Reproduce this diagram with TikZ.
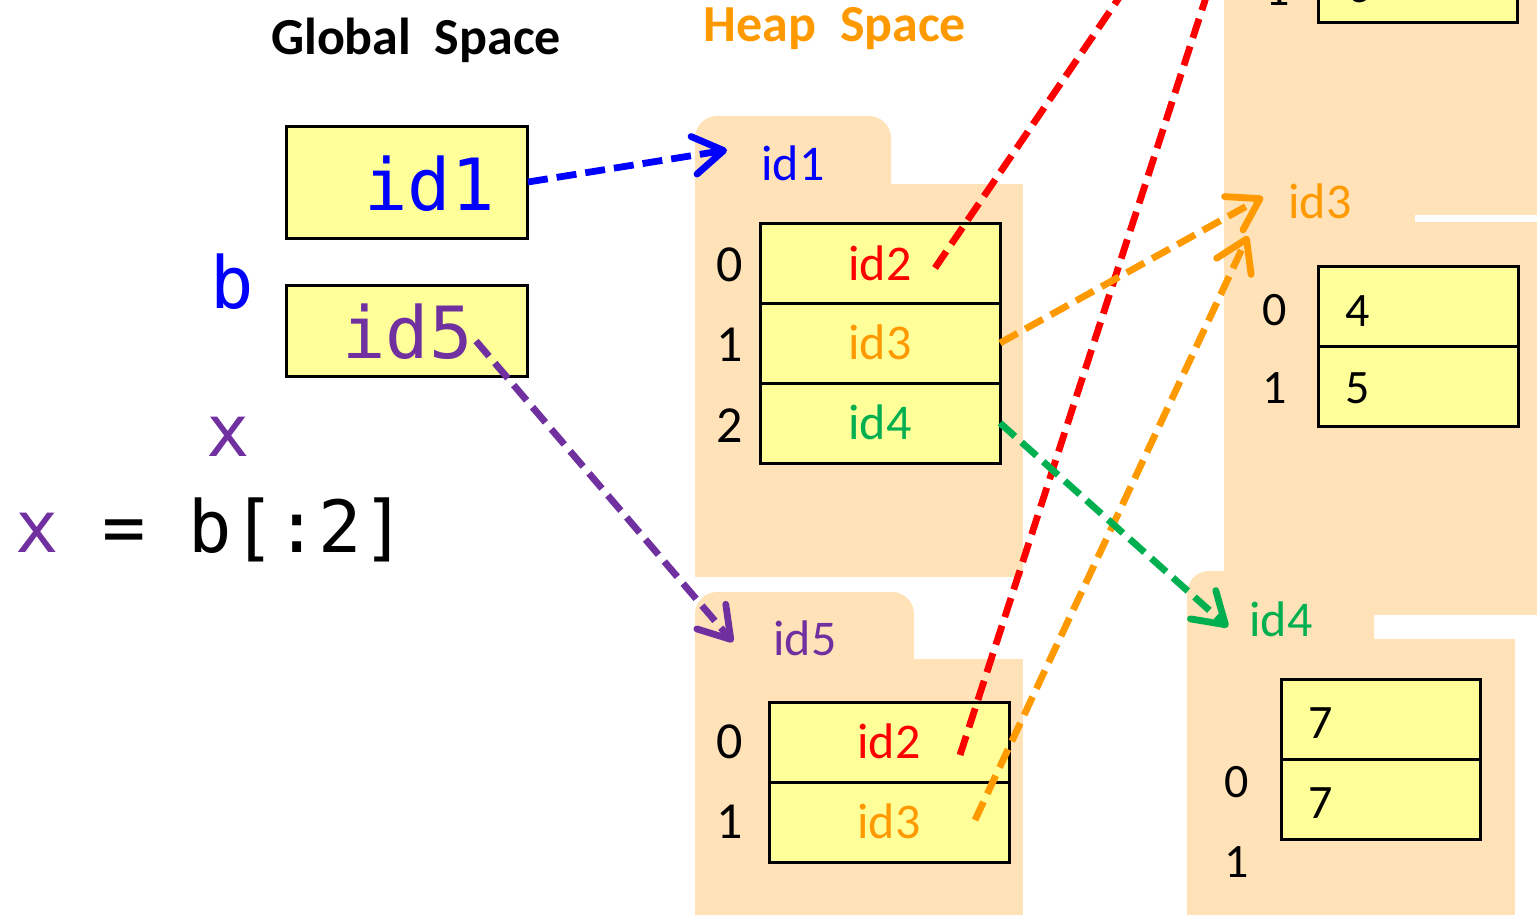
\documentclass[tikz,border=0pt]{standalone}
\usepackage{fontspec}
\setmainfont{Carlito}
\newfontfamily\codefont{DejaVu Sans Mono}
\usetikzlibrary{arrows.meta}

\definecolor{peach}{HTML}{FFE2B7}
\definecolor{cellyellow}{HTML}{FFFF99}
\definecolor{refblue}{HTML}{0000FF}
\definecolor{refpurple}{HTML}{7030A0}
\definecolor{refred}{HTML}{FF0000}
\definecolor{reforange}{HTML}{FF9900}
\definecolor{refgreen}{HTML}{00B050}

\tikzset{
  folder/.style={fill=peach, draw=none},
  cellbox/.style={draw=black, line width=1.5pt, fill=cellyellow},
  idxtext/.style={anchor=base, inner sep=0pt, font=\fontsize{26}{30}\selectfont},
  smallidx/.style={anchor=base, inner sep=0pt, font=\fontsize{24}{28}\selectfont},
  celltext/.style={anchor=base, inner sep=0pt, font=\fontsize{25}{30}\selectfont},
  valtext/.style={anchor=base west, inner sep=0pt, font=\fontsize{24}{28}\selectfont},
  codetext/.style={inner sep=0pt, font=\codefont\fontsize{36}{40}\selectfont},
  titletext/.style={anchor=base, inner sep=0pt, font=\bfseries\fontsize{26}{30}\selectfont},
  ptr/.style={line width=3.4pt, dash pattern=on 10pt off 4.5pt,
    -{Straight Barb[length=15pt, width=19pt, round]}},
  ptrline/.style={line width=3.4pt, dash pattern=on 10pt off 4.5pt}
}

\begin{document}
\begin{tikzpicture}[x=0.5pt, y=-0.5pt]
\useasboundingbox (0,0) rectangle (1537,915);
\clip (0,0) rectangle (1537,915);

% ---------- heap folders ----------
% folder id1
\fill[folder, rounded corners=11pt] (695,116) rectangle (891,300);
\fill[folder] (695,184) rectangle (1023,577);
% folder id5
\fill[folder, rounded corners=11pt] (695,592) rectangle (914,760);
\fill[folder] (695,659) rectangle (1023,930);
% folder id4
\fill[folder, rounded corners=11pt] (1187,571) rectangle (1374,760);
\fill[folder] (1187,639) rectangle (1515,930);
% folder id2 (upper part only)
\fill[folder] (1224,-60) rectangle (1537,215);
% folder id3
\fill[folder] (1224,150) rectangle (1415,300);
\fill[folder] (1224,222) rectangle (1537,615);

% ---------- titles ----------
\node[titletext] (gtitle) at (416,55) {Global\ \ Space};
\node[titletext, text=reforange] (htitle) at (835,42) {Heap\ \ Space};

% ---------- global variables ----------
\draw[cellbox] (286,127) rectangle (527,238);
\draw[cellbox] (286,285) rectangle (527,376);
\node[codetext, anchor=base west, text=refblue] (gb) at (364,210) {id1};
\node[codetext, anchor=base west, text=refpurple] (gx) at (342,358) {id5};
\node[codetext, anchor=base west, text=refblue] (lb) at (210,308) {b};
\node[codetext, anchor=base west, text=refpurple] (lx) at (206,456) {x};
\node[codetext, anchor=base west] (stmt) at (15,552) {\textcolor{refpurple}{x} = b[:2]};

% ---------- folder id1 contents ----------
\node[celltext, text=refblue, anchor=base west] (f1) at (761,180) {id1};
\draw[cellbox] (760,223) rectangle (1000,303);
\draw[cellbox] (760,303) rectangle (1000,383);
\draw[cellbox] (760,383) rectangle (1000,463);
\node[idxtext] (a0) at (730,281) {0};
\node[idxtext] (a1) at (730,361) {1};
\node[idxtext] (a2) at (730,442) {2};
\node[celltext, text=refred] (a0v) at (880,280) {id2};
\node[celltext, text=reforange] (a1v) at (880,359) {id3};
\node[celltext, text=refgreen] (a2v) at (880,439) {id4};

% ---------- folder id5 contents ----------
\node[celltext, text=refpurple, anchor=base west] (f5) at (773,655) {id5};
\draw[cellbox] (769,702) rectangle (1009,782);
\draw[cellbox] (769,782) rectangle (1009,862);
\node[idxtext] (b0) at (730,758) {0};
\node[idxtext] (b1) at (730,838) {1};
\node[celltext, text=refred] (b0v) at (889,758) {id2};
\node[celltext, text=reforange] (b1v) at (889,838) {id3};

% ---------- folder id2 (bottom row visible) ----------
\draw[cellbox] (1318,-57) rectangle (1517,23);
\node[smallidx] (c1) at (1278,6) {1};
\node[valtext] (c1v) at (1347,3) {6};

% ---------- folder id3 contents ----------
\node[celltext, text=reforange, anchor=base west] (f3) at (1288,219) {id3};
\draw[cellbox] (1318,266) rectangle (1518,346);
\draw[cellbox] (1318,346) rectangle (1518,426);
\node[smallidx] (d0) at (1275,325) {0};
\node[smallidx] (d1) at (1275,403) {1};
\node[valtext] (d0v) at (1345,326) {4};
\node[valtext] (d1v) at (1345,403) {5};

% ---------- folder id4 contents ----------
\node[celltext, text=refgreen, anchor=base west] (f4) at (1249,636) {id4};
\draw[cellbox] (1281,679) rectangle (1480,759);
\draw[cellbox] (1281,759) rectangle (1480,839);
\node[smallidx] (e0) at (1237,797) {0};
\node[smallidx] (e1) at (1237,877) {1};
\node[valtext] (e0v) at (1308,738) {7};
\node[valtext] (e1v) at (1308,818) {7};

% ---------- reference end points ----------
\coordinate (s-id1) at (528,182);
\coordinate (t-id1) at (727,150);
\coordinate (s-id5) at (476,341);
\coordinate (t-id5) at (733,642);
\coordinate (s-a0) at (935,268);
\coordinate (t-a0) at (1155,-55);
\coordinate (s-b0) at (960,755);
\coordinate (t-b0) at (1223,-55);
\coordinate (s-a1) at (1000,343);
\coordinate (t-a1) at (1263,197);
\coordinate (s-b1) at (975,820);
\coordinate (t-b1) at (1248,236);
\coordinate (s-a2) at (1000,423);
\coordinate (t-a2) at (1228,627);

% ---------- pointers ----------
\draw[ptr, refblue] (s-id1) -- (t-id1);
\draw[ptr, refpurple] (s-id5) -- (t-id5);
\draw[ptrline, refred] (s-a0) -- (t-a0);
\draw[ptrline, refred] (s-b0) -- (t-b0);
\draw[ptr, reforange] (s-a1) -- (t-a1);
\draw[ptr, reforange] (s-b1) -- (t-b1);
\draw[ptr, refgreen] (s-a2) -- (t-a2);
\end{tikzpicture}
\end{document}
